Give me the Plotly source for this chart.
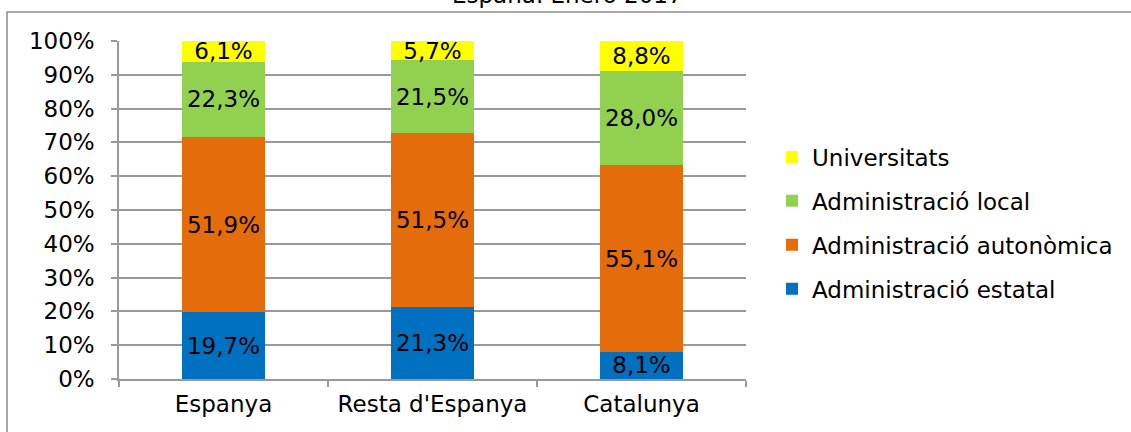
import plotly.graph_objects as go

categories = ["Espanya", "Resta d'Espanya", "Catalunya"]
series_names = ["Administració estatal", "Administració autonòmica",
                "Administració local", "Universitats"]
estatal = [19.7, 21.3, 8.1]
autonomica = [51.9, 51.5, 55.1]
local = [22.3, 21.5, 28.0]
universitats = [6.1, 5.7, 8.8]
colors = ["#0070C0", "#E46C0A", "#92D050", "#FFFF00"]
legend_ranks = [4, 3, 2, 1]
y_ticks = [0, 10, 20, 30, 40, 50, 60, 70, 80, 90, 100]
title_text = "España. Enero 2017"

FONT = "DejaVu Sans"
fig = go.Figure()
for name, vals, col, rank in zip(series_names, [estatal, autonomica, local, universitats],
                                 colors, legend_ranks):
    fig.add_trace(go.Bar(
        x=categories, y=vals, name=name, legendgroup=name, legendrank=rank,
        marker=dict(color=col, line=dict(width=0)),
        text=[f"{v:.1f}%".replace(".", ",") for v in vals],
        textposition="inside", insidetextanchor="middle",
        constraintext="none", cliponaxis=False,
        textfont=dict(family=FONT, size=23, color="black"),
        hoverinfo="skip",
    ))

L, R, T, B = 119, 746, 41, 379
W, H = 1131, 432

def px(xp):
    return (xp - L) / (R - L)

def py(yp):
    return (B - yp) / (B - T)

fig.update_layout(
    width=W, height=H,
    barmode="stack", bargap=0.6,
    margin=dict(l=L, r=W - R, t=T, b=H - B, pad=0, autoexpand=False),
    paper_bgcolor="white", plot_bgcolor="white",
    font=dict(family=FONT, size=22, color="black"),
    showlegend=True,
    legend=dict(
        traceorder="grouped", tracegroupgap=11,
        x=px(772), xanchor="left", y=py(223), yanchor="middle",
        font=dict(family=FONT, size=23, color="black"),
        itemwidth=30, bgcolor="rgba(0,0,0,0)",
    ),
    xaxis=dict(
        tickson="boundaries", ticks="outside", ticklen=6, tickwidth=1.5,
        tickcolor="#999999", showline=True, linecolor="#999999", linewidth=1.5,
        showgrid=False, tickfont=dict(family=FONT, size=23), ticklabelstandoff=4,
    ),
    yaxis=dict(
        range=[0, 100], tickvals=y_ticks, ticktext=[f"{v}%" for v in y_ticks],
        ticks="outside", ticklen=6, tickwidth=1.5, tickcolor="#999999",
        showline=True, linecolor="#999999", linewidth=1.5,
        showgrid=True, gridcolor="#999999", gridwidth=1.5,
        zeroline=False, tickfont=dict(family=FONT, size=23), ticklabelstandoff=12,
    ),
    shapes=[dict(type="rect", xref="paper", yref="paper",
                 x0=px(7), x1=px(1145), y0=py(445), y1=py(12),
                 line=dict(color="#8c8c8c", width=1.5), fillcolor="rgba(0,0,0,0)",
                 layer="below")],
    annotations=[dict(text=title_text, xref="paper", yref="paper",
                      x=px(567), y=py(-5), xanchor="center", yanchor="middle",
                      showarrow=False, font=dict(family=FONT, size=23, color="black"))],
)

fig.write_html("out.html", config={"displayModeBar": False},
               post_script="document.body.style.margin='0';")
